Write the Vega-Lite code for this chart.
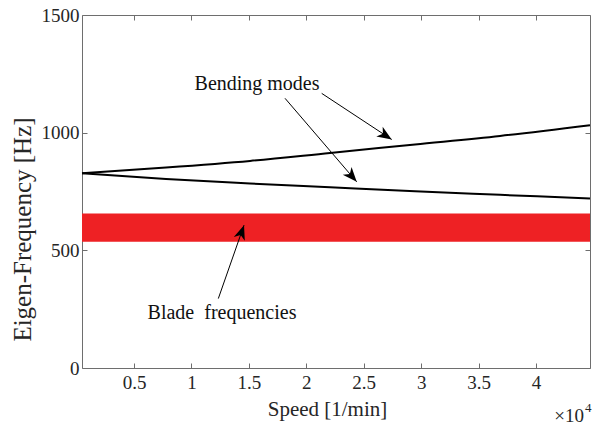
{
  "$schema": "https://vega.github.io/schema/vega-lite/v6.json",
  "width": 508,
  "height": 353,
  "autosize": {"type": "none"},
  "padding": {"left": 82, "top": 15, "right": 2, "bottom": 62},
  "background": "white",
  "config": {
    "view": {"stroke": "#6e6e6e", "strokeWidth": 1},
    "axis": {
      "labelFont": "Times New Roman, Liberation Serif, serif",
      "titleFont": "Times New Roman, Liberation Serif, serif",
      "labelFontSize": 19,
      "titleFontSize": 21,
      "titleFontWeight": "normal",
      "labelColor": "#262626",
      "titleColor": "#262626",
      "tickColor": "#6e6e6e",
      "domain": false,
      "grid": false,
      "tickSize": -5
    },
    "text": {"font": "Times New Roman, Liberation Serif, serif"}
  },
  "resolve": {"axis": {"x": "independent", "y": "independent"}},
  "layer": [
    {
      "data": {"values": [{"x": 470, "x2": 44700, "y": 536, "y2": 657}]},
      "mark": {"type": "rect", "color": "#ee2124"},
      "encoding": {
        "x": {"field": "x", "type": "quantitative",
          "scale": {"domain": [470, 44700], "nice": false, "zero": false},
          "axis": {"orient": "bottom", "values": [5000, 10000, 15000, 20000, 25000, 30000, 35000, 40000],
            "labelExpr": "format(datum.value / 10000, '')", "labelPadding": 10,
            "title": "Speed [1/min]", "titleX": 245, "titleY": 47, "titleBaseline": "alphabetic", "titleAnchor": "start", "titleAlign": "center"}},
        "x2": {"field": "x2"},
        "y": {"field": "y", "type": "quantitative",
          "scale": {"domain": [0, 1500], "nice": false, "zero": false},
          "axis": {"orient": "left", "values": [0, 500, 1000, 1500], "format": "d", "labelPadding": 8,
            "title": "Eigen-Frequency [Hz]", "titleFontSize": 25, "titleX": -60, "titleY": 214, "titleBaseline": "middle", "titleAlign": "center", "titleAngle": -90}},
        "y2": {"field": "y2"}
      }
    },
    {
      "data": {"values": [
        {"speed": 470, "freq": 828, "mode": "upper"},
        {"speed": 7786, "freq": 852, "mode": "upper"},
        {"speed": 15100, "freq": 880, "mode": "upper"},
        {"speed": 22066, "freq": 914, "mode": "upper"},
        {"speed": 29467, "freq": 950, "mode": "upper"},
        {"speed": 36868, "freq": 986, "mode": "upper"},
        {"speed": 44700, "freq": 1032, "mode": "upper"},
        {"speed": 470, "freq": 828, "mode": "lower"},
        {"speed": 7786, "freq": 803, "mode": "lower"},
        {"speed": 15100, "freq": 784, "mode": "lower"},
        {"speed": 22066, "freq": 768, "mode": "lower"},
        {"speed": 29467, "freq": 751, "mode": "lower"},
        {"speed": 36868, "freq": 736, "mode": "lower"},
        {"speed": 44700, "freq": 720, "mode": "lower"}
      ]},
      "mark": {"type": "line", "color": "black", "strokeWidth": 2, "interpolate": "monotone"},
      "encoding": {
        "x": {"field": "speed", "type": "quantitative",
          "scale": {"domain": [470, 44700], "nice": false, "zero": false},
          "axis": {"orient": "top", "values": [5000, 10000, 15000, 20000, 25000, 30000, 35000, 40000], "labels": false, "title": null}},
        "y": {"field": "freq", "type": "quantitative",
          "scale": {"domain": [0, 1500], "nice": false, "zero": false},
          "axis": {"orient": "right", "values": [0, 500, 1000, 1500], "labels": false, "title": null}},
        "detail": {"field": "mode"}
      }
    },
    {
      "data": {"values": [
        {"x": 21340, "y": 1167, "x2": 27436, "y2": 971},
        {"x": 18147, "y": 1146, "x2": 24389, "y2": 791},
        {"x": 12339, "y": 295, "x2": 14577, "y2": 607}
      ]},
      "mark": {"type": "rule", "color": "black", "strokeWidth": 1},
      "encoding": {
        "x": {"field": "x", "type": "quantitative", "scale": {"domain": [470, 44700], "nice": false, "zero": false}, "axis": null},
        "y": {"field": "y", "type": "quantitative", "scale": {"domain": [0, 1500], "nice": false, "zero": false}, "axis": null},
        "x2": {"field": "x2"},
        "y2": {"field": "y2"}
      }
    },
    {
      "data": {"values": [{"x": 27436, "y": 971}]},
      "mark": {"type": "point", "filled": true, "color": "black", "opacity": 1, "size": 850, "angle": 123,
        "shape": "M0,0L-0.4,1L0,0.72L0.4,1Z"},
      "encoding": {
        "x": {"field": "x", "type": "quantitative", "scale": {"domain": [470, 44700], "nice": false, "zero": false}, "axis": null},
        "y": {"field": "y", "type": "quantitative", "scale": {"domain": [0, 1500], "nice": false, "zero": false}, "axis": null}
      }
    },
    {
      "data": {"values": [{"x": 24389, "y": 791}]},
      "mark": {"type": "point", "filled": true, "color": "black", "opacity": 1, "size": 850, "angle": 139,
        "shape": "M0,0L-0.4,1L0,0.72L0.4,1Z"},
      "encoding": {
        "x": {"field": "x", "type": "quantitative", "scale": {"domain": [470, 44700], "nice": false, "zero": false}, "axis": null},
        "y": {"field": "y", "type": "quantitative", "scale": {"domain": [0, 1500], "nice": false, "zero": false}, "axis": null}
      }
    },
    {
      "data": {"values": [{"x": 14577, "y": 607}]},
      "mark": {"type": "point", "filled": true, "color": "black", "opacity": 1, "size": 850, "angle": 19,
        "shape": "M0,0L-0.4,1L0,0.72L0.4,1Z"},
      "encoding": {
        "x": {"field": "x", "type": "quantitative", "scale": {"domain": [470, 44700], "nice": false, "zero": false}, "axis": null},
        "y": {"field": "y", "type": "quantitative", "scale": {"domain": [0, 1500], "nice": false, "zero": false}, "axis": null}
      }
    },
    {
      "data": {"values": [
        {"x": 15710, "y": 1206, "label": "Bending modes"},
        {"x": 12660, "y": 232, "label": "Blade\u00a0 frequencies"}
      ]},
      "mark": {"type": "text", "fontSize": 20, "color": "#111111", "baseline": "middle", "align": "center"},
      "encoding": {
        "x": {"field": "x", "type": "quantitative", "scale": {"domain": [470, 44700], "nice": false, "zero": false}, "axis": null},
        "y": {"field": "y", "type": "quantitative", "scale": {"domain": [0, 1500], "nice": false, "zero": false}, "axis": null},
        "text": {"field": "label"}
      }
    },
    {
      "data": {"values": [{"x": 44178, "y": -231, "label": "×10"}]},
      "mark": {"type": "text", "fontSize": 19, "color": "#262626", "baseline": "alphabetic", "align": "right"},
      "encoding": {
        "x": {"field": "x", "type": "quantitative", "scale": {"domain": [470, 44700], "nice": false, "zero": false}, "axis": null},
        "y": {"field": "y", "type": "quantitative", "scale": {"domain": [0, 1500], "nice": false, "zero": false}, "axis": null},
        "text": {"field": "label"}
      }
    },
    {
      "data": {"values": [{"x": 44265, "y": -186, "label": "4"}]},
      "mark": {"type": "text", "fontSize": 13, "color": "#262626", "baseline": "alphabetic", "align": "left"},
      "encoding": {
        "x": {"field": "x", "type": "quantitative", "scale": {"domain": [470, 44700], "nice": false, "zero": false}, "axis": null},
        "y": {"field": "y", "type": "quantitative", "scale": {"domain": [0, 1500], "nice": false, "zero": false}, "axis": null},
        "text": {"field": "label"}
      }
    }
  ]
}
